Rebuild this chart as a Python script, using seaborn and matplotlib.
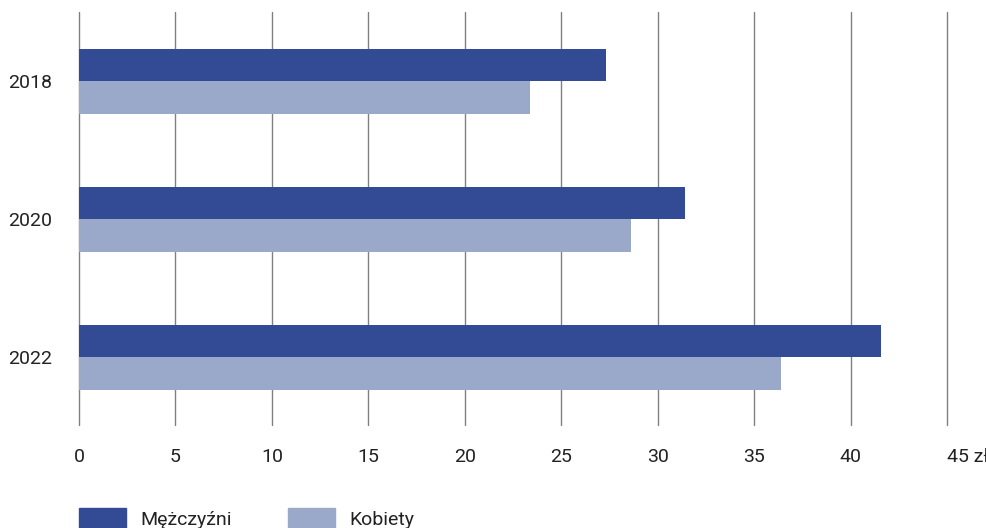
import seaborn as sns
import matplotlib.pyplot as plt
import matplotlib.transforms as mtransforms
from matplotlib.patches import Patch
import pandas as pd

# dane
years = ['2018', '2020', '2022']
men = [27.3, 31.4, 41.6]
women = [23.4, 28.6, 36.4]
ticks = [0, 5, 10, 15, 20, 25, 30, 35, 40, 45]
tick_labels = ['0', '5', '10', '15', '20', '25', '30', '35', '40', '45 zł']

df = pd.DataFrame({
    'rok': years * 2,
    'wartosc': men + women,
    'plec': ['Mężczyźni'] * 3 + ['Kobiety'] * 3,
})

sns.set_style('white')
plt.rcParams['font.family'] = ['Roboto', 'DejaVu Sans']

fig = plt.figure(figsize=(9.87, 5.28), dpi=100)
ax = fig.add_axes([0.08, 0.195, 0.8795, 0.782])

ax.grid(axis='x', color='#808080', linewidth=1)
ax.set_axisbelow(True)

sns.barplot(data=df, x='wartosc', y='rok', hue='plec', orient='h',
            palette=['#334a94', '#9aa8ca'], width=0.47, saturation=1,
            linewidth=0, legend=False, ax=ax)

ax.set_xlim(0, 45)
ax.set_ylim(2.49, -0.5)
ax.set_xticks(ticks)
ax.set_xticklabels(tick_labels, fontsize=14, color='#222222')
for gl in ax.get_xgridlines():
    gl.set_clip_on(False)
lab = ax.get_xticklabels()[-1]
lab.set_ha('left')
lab.set_transform(lab.get_transform() + mtransforms.ScaledTranslation(-8 / 100, 0, fig.dpi_scale_trans))
ax.tick_params(axis='x', length=0, pad=16.5)
ax.tick_params(axis='y', length=0, pad=19, labelsize=14, labelcolor='#222222')
ax.set_xlabel('')
ax.set_ylabel('')
for s in ax.spines.values():
    s.set_visible(False)

handles = [Patch(color='#334a94', label='Mężczyźni'), Patch(color='#9aa8ca', label='Kobiety')]
fig.legend(handles=handles, loc='upper left', bbox_to_anchor=(0.062, 1 - 490 / 528),
           ncol=2, frameon=False, fontsize=14, handlelength=2.45, handleheight=1.3,
           handletextpad=0.7, columnspacing=2.9, labelcolor='#222222')

fig.savefig('out.png', dpi=100)
